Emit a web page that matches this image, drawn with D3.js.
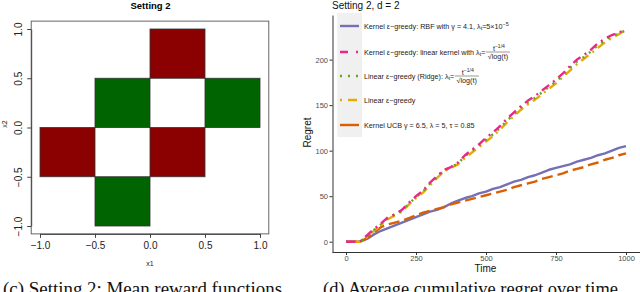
<!DOCTYPE html>
<html><head><meta charset="utf-8">
<script src="https://cdn.jsdelivr.net/npm/d3@7"></script>
<style>
body{margin:0;background:#fff;}
svg{display:block;}
text{font-family:"Liberation Sans",Arial,sans-serif;}
.serif{font-family:"Liberation Serif","DejaVu Serif",serif;}
</style></head>
<body>
<svg id="c" width="640" height="292"></svg>
<script>
// ---------- Data: left panel (Setting 2 reward regions) ----------
const cellX0 = [0, -1, 0, -0.5, 0.5, -0.5];
const cellY0 = [0.5, -0.5, -0.5, 0, 0, -1];
const cellSign = ["neg", "neg", "neg", "pos", "pos", "pos"];
const cellSize = 0.5;
const leftTicks = [-1, -0.5, 0, 0.5, 1];

// ---------- Data: right panel (regret over time) ----------
const timeSteps = [0,25,50,75,100,125,150,175,200,225,250,275,300,325,350,375,400,425,450,475,500,
  525,550,575,600,625,650,675,700,725,750,775,800,825,850,875,900,925,950,975,1000];
const regretRBF = [0,0,0,3,8,12,15,18,21,24,27,30,33,35,38,42,45,48,50,53,55,
  58,60,63,66,68,71,73,76,79,81,83,85,88,90,92,95,97,100,103,105];
const regretLinKernel = [0,0,0,7,14,20,27,30,35,43,50,56,65,72,79,82,87,95,101,107,114,
  120,127,135,142,149,155,160,166,172,178,185,193,200,205,211,218,223,227,230,233];
const regretRidge = [0,0,0,6,13,19,26,30,34,42,49,55,64,71,78,82,86,94,100,106,112,
  118,125,133,140,147,153,158,164,170,176,183,191,198,203,209,216,221,226,229,232];
const regretLinear = [0,0,0,5,12,18,25,29,33,41,48,54,62,70,77,81,85,92,98,104,110,
  116,123,131,138,145,151,156,162,168,174,181,188,195,201,207,213,219,224,228,233];
const regretUCB = [0,0,0,4,10,16,19,21,23,26,29,32,34,36,38,41,43,45,47,49,51,
  53,55,57,60,62,64,66,69,71,73,75,78,80,82,85,87,90,92,95,97];
const seriesNames = ["rbf","linkernel","ridge","linear","ucb"];
const rightYTicks = [0, 50, 100, 150, 200];
const rightXTicks = [0, 250, 500, 750, 1000];

const svg = d3.select("#c");

// =================== LEFT PANEL ===================
const xL = d3.scaleLinear().domain([-1, 1]).range([40, 260]);
const yL = d3.scaleLinear().domain([-1, 1]).range([226, 29]);
const L = svg.append("g");

L.append("text").attr("x", 150.5).attr("y", 9).attr("text-anchor","middle")
  .attr("font-size", 9.5).attr("font-weight","bold").text("Setting 2");

const cells = cellX0.map((x0,i)=>({x0, y0: cellY0[i], s: cellSign[i]}));
L.selectAll("rect.cell").data(cells).join("rect").attr("class","cell")
  .attr("x", d=>xL(d.x0)).attr("y", d=>yL(d.y0+cellSize))
  .attr("width", d=>xL(d.x0+cellSize)-xL(d.x0))
  .attr("height", d=>yL(d.y0)-yL(d.y0+cellSize))
  .attr("fill", d=> d.s==="neg" ? "#8b0000" : "#006400")
  .attr("stroke","#333").attr("stroke-width",0.8);

// plot box
L.append("rect").attr("x", xL(-1.08)).attr("y", yL(1.08))
  .attr("width", xL(1.08)-xL(-1.08)).attr("height", yL(-1.08)-yL(1.08))
  .attr("fill","none").attr("stroke","#555").attr("stroke-width",0.9);

const fmtL = d=> (d<0?"\u2212":"") + Math.abs(d).toFixed(1);
const axB = L.append("g").attr("transform",`translate(0,${yL(-1.08)})`)
  .call(d3.axisBottom(xL).tickValues(leftTicks).tickFormat(fmtL).tickSize(4).tickSizeOuter(0));
axB.select(".domain").attr("stroke","#444");
axB.selectAll(".tick line").attr("stroke","#444");
axB.selectAll(".tick text").attr("font-size",10).attr("fill","#222").attr("y",8);

const axLft = L.append("g").attr("transform",`translate(${xL(-1.08)},0)`)
  .call(d3.axisLeft(yL).tickValues(leftTicks).tickFormat(fmtL).tickSize(4).tickSizeOuter(0));
axLft.select(".domain").attr("stroke","#444");
axLft.selectAll(".tick line").attr("stroke","#444");
axLft.selectAll(".tick text").attr("font-size",10).attr("fill","#222")
  .attr("transform","rotate(-90)").attr("x",0).attr("y",-9).attr("dy",0)
  .attr("text-anchor","middle");

L.append("text").attr("x",150).attr("y",266).attr("text-anchor","middle")
  .attr("font-size",7).attr("fill","#222").text("x1");
L.append("text").attr("transform","translate(7,124) rotate(-90)").attr("text-anchor","middle")
  .attr("font-size",7).attr("fill","#222").text("x2");

// =================== RIGHT PANEL ===================
const xR = d3.scaleLinear().domain([-50, 1050]).range([332, 640]);
const yR = d3.scaleLinear().domain([-11.3, 249]).range([252, 15]);
const R = svg.append("g");

R.append("text").attr("x",332).attr("y",9).attr("font-size",10).attr("fill","#111")
  .text("Setting 2, d = 2");

const axX = R.append("g").attr("transform",`translate(0,252)`)
  .call(d3.axisBottom(xR).tickValues(rightXTicks).tickFormat(d3.format("d")).tickSize(3).tickSizeOuter(0));
axX.select(".domain").attr("stroke","#333").attr("stroke-width",1);
axX.selectAll(".tick line").attr("stroke","#333");
axX.selectAll(".tick text").attr("font-size",7.5).attr("fill","#4d4d4d").attr("y",3.5);

const axY = R.append("g").attr("transform",`translate(332.5,0)`)
  .call(d3.axisLeft(yR).tickValues(rightYTicks).tickFormat(d3.format("d")).tickSize(3).tickSizeOuter(0));
axY.select(".domain").attr("stroke","#333").attr("stroke-width",1);
axY.selectAll(".tick line").attr("stroke","#333");
axY.selectAll(".tick text").attr("font-size",7.5).attr("fill","#4d4d4d").attr("x",-4.5);

R.append("text").attr("x",485.5).attr("y",272).attr("text-anchor","middle")
  .attr("font-size",10).attr("fill","#111").text("Time");
R.append("text").attr("transform","translate(311,132.5) rotate(-90)").attr("text-anchor","middle")
  .attr("font-size",10).attr("fill","#111").text("Regret");

const styles = {
  rbf:       {color:"#7570b3", dash:null},
  linkernel: {color:"#e7298a", dash:"9,5,2,5"},
  ridge:     {color:"#66a61e", dash:"2,6"},
  linear:    {color:"#e6ab02", dash:"2,5,9,5"},
  ucb:       {color:"#d95f02", dash:"11,5"}
};
const seriesVals = {rbf:regretRBF, linkernel:regretLinKernel, ridge:regretRidge, linear:regretLinear, ucb:regretUCB};
const line = d3.line().x((d,i)=>xR(timeSteps[i])).y(d=>yR(d));

["rbf","ucb","linear","ridge","linkernel"].forEach(k=>{
  R.append("path").datum(seriesVals[k]).attr("d", line)
    .attr("fill","none").attr("stroke", styles[k].color).attr("stroke-width",2.4)
    .attr("stroke-dasharray", styles[k].dash).attr("stroke-linejoin","round");
});

// ---------- Legend ----------
const lg = R.append("g");
lg.append("rect").attr("x",337.3).attr("y",13).attr("width",24.7).attr("height",124).attr("fill","#f0f0f0");
const legY = [26, 52, 76, 100, 125];
seriesNames.forEach((k,i)=>{
  lg.append("line").attr("x1",340).attr("x2",359).attr("y1",legY[i]).attr("y2",legY[i])
    .attr("stroke",styles[k].color).attr("stroke-width",2.4)
    .attr("stroke-dasharray", k==="linkernel" ? "8,8,2,4" : k==="linear" ? "2,6,9,4" : k==="ridge" ? "2,6" : null);
});
const fs = 7.2, tx = 364;

// entry 1
let t1 = lg.append("text").attr("x",tx).attr("y",legY[0]+2.5).attr("font-size",fs).attr("fill","#222");
t1.append("tspan").text("Kernel \u03b5\u2212greedy: RBF with \u03b3 = 4.1, \u03bb");
t1.append("tspan").attr("font-size",fs*0.75).attr("dy",1.5).text("t");
t1.append("tspan").attr("dy",-1.5).text("=5\u00d710");
t1.append("tspan").attr("font-size",fs*0.75).attr("dy",-3).text("\u22125");

// fraction helper: placed right after given text element
function frac(textSel, yc){
  const bb = textSel.node().getBBox();
  const x = bb.x + bb.width + 0.5;
  const w = 24;
  lg.append("text").attr("x",x+w/2+1).attr("y",yc-1.5).attr("text-anchor","middle").attr("font-size",fs).attr("fill","#222")
    .text("t").append("tspan").attr("font-size",fs*0.7).attr("dy",-3).text("\u22121/4");
  lg.append("line").attr("x1",x).attr("x2",x+w).attr("y1",yc).attr("y2",yc).attr("stroke","#333").attr("stroke-width",0.5);
  lg.append("text").attr("x",x+w/2).attr("y",yc+7.3).attr("text-anchor","middle").attr("font-size",fs).attr("fill","#222")
    .text("\u221alog(t)");
}
// entry 2
let t2 = lg.append("text").attr("x",tx).attr("y",legY[1]+2.5).attr("font-size",fs).attr("fill","#222");
t2.append("tspan").text("Kernel \u03b5\u2212greedy: linear kernel with  \u03bb");
t2.append("tspan").attr("font-size",fs*0.75).attr("dy",1.5).text("t");
t2.append("tspan").attr("dy",-1.5).text("=");
frac(t2, legY[1]);
// entry 3
let t3 = lg.append("text").attr("x",tx).attr("y",legY[2]+2.5).attr("font-size",fs).attr("fill","#222");
t3.append("tspan").text("Linear \u03b5\u2212greedy (Ridge): \u03bb");
t3.append("tspan").attr("font-size",fs*0.75).attr("dy",1.5).text("t");
t3.append("tspan").attr("dy",-1.5).text("=");
frac(t3, legY[2]);
// entry 4
lg.append("text").attr("x",tx).attr("y",legY[3]+2.5).attr("font-size",fs).attr("fill","#222")
  .text("Linear \u03b5\u2212greedy");
// entry 5
lg.append("text").attr("x",tx).attr("y",legY[4]+2.5).attr("font-size",fs).attr("fill","#222")
  .text("Kernel UCB \u03b3 = 6.5, \u03bb = 5, \u03c4 = 0.85");

// ---------- Captions ----------
svg.append("text").attr("class","serif").attr("x",3).attr("y",295).attr("font-size",18)
  .attr("textLength",279).attr("lengthAdjust","spacingAndGlyphs").attr("fill","#111")
  .text("(c) Setting 2: Mean reward functions");
svg.append("text").attr("class","serif").attr("x",323).attr("y",295).attr("font-size",18)
  .attr("textLength",295).attr("lengthAdjust","spacingAndGlyphs").attr("fill","#111")
  .text("(d) Average cumulative regret over time");
</script>
</body></html>
